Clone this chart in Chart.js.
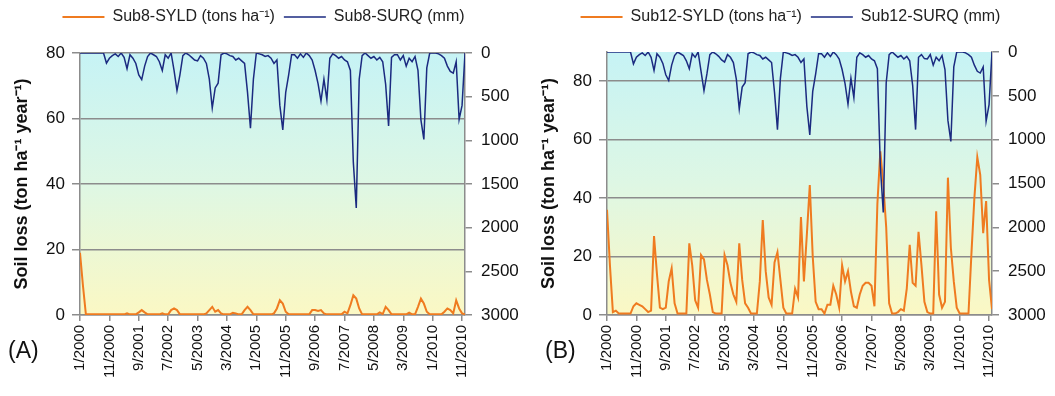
<!DOCTYPE html>
<html>
<head>
<meta charset="utf-8">
<script src="https://cdn.jsdelivr.net/npm/chart.js@4.4.1/dist/chart.umd.min.js"></script>
<style>
  body { margin: 0; background: #fff; width: 1055px; height: 396px; overflow: hidden; position: relative;
         font-family: "Liberation Sans", Arial, sans-serif; }
  .panel { position: absolute; top: 0; width: 527px; height: 396px; }
  .tag { position: absolute; top: 337px; font-size: 23px; color: #111; }
</style>
</head>
<body>
<div class="panel" style="left:0"><canvas id="chartA" width="527" height="396"></canvas></div>
<div class="panel" style="left:527px"><canvas id="chartB" width="527" height="396"></canvas></div>
<div class="tag" style="left:8px">(A)</div>
<div class="tag" style="left:545px">(B)</div>
<script>
// monthly values, Jan 2000 .. Dec 2010 (one row per year)
const sub8Syld = [
  19, 9, 0.2, 0.2, 0.2, 0.2, 0.2, 0.2, 0.2, 0.2, 0.2, 0.2,
  0.2, 0.2, 0.2, 0.2, 0.5, 0.2, 0.2, 0.2, 0.8, 1.5, 0.8, 0.2,
  0.2, 0.2, 0.2, 0.2, 0.5, 0.2, 0.2, 1.5, 2, 1.5, 0.2, 0.2,
  0.2, 0.2, 0.2, 0.2, 0.2, 0.2, 0.2, 0.5, 1.5, 2.5, 1, 1.5,
  0.5, 0.2, 0.2, 0.2, 0.7, 0.5, 0.2, 0.2, 1.5, 2.5, 1.5, 0.2,
  0.2, 0.2, 0.2, 0.2, 0.2, 0.2, 0.5, 2, 4.5, 3.5, 1, 0.2,
  0.2, 0.2, 0.2, 0.2, 0.2, 0.2, 0.2, 1.5, 1.5, 1.2, 1.5, 0.5,
  0.2, 0.2, 0.2, 0.2, 0.2, 0.2, 1, 0.5, 3, 6, 5, 2,
  0.2, 0.2, 0.2, 0.2, 0.2, 0.2, 0.8, 0.3, 2.5, 1.5, 0.2, 0.2,
  0.2, 0.2, 0.2, 0.2, 0.7, 0.2, 0.2, 2.5, 5, 3.5, 1, 0.2,
  0.2, 0.2, 0.2, 0.2, 1, 2, 1.5, 0.5, 4.5, 2, 0.5, 0.2
];
const sub8Surq = [
  0, 0, 0, 0, 0, 0, 0, 0, 0, 115, 60, 30,
  10, 40, 0, 50, 180, 20, 60, 120, 250, 305, 150, 40,
  0, 20, 40, 100, 200, 20, 60, 0, 200, 430, 250, 30,
  0, 20, 50, 80, 90, 30, 60, 120, 300, 630, 400, 345,
  20, 0, 10, 30, 40, 80, 60, 90, 120, 450, 860, 300,
  0, 10, 20, 40, 30, 60, 120, 80, 600, 880, 450, 250,
  20, 20, 60, 10, 50, 0, 30, 80, 200, 350, 550, 300,
  535, 60, 10, 30, 60, 40, 80, 100, 200, 1250, 1775, 300,
  30, 0, 30, 60, 40, 80, 50, 100, 360, 835, 50, 20,
  20, 80, 30, 150, 60, 100, 40, 200, 765, 990, 170, 0,
  0, 0, 10, 30, 60, 150, 210, 230, 100, 760, 600, 0
];
const sub12Syld = [
  36, 17, 1, 1.5, 0.5, 0.5, 0.5, 0.5, 0.5, 3, 4, 3.5,
  3, 2, 1, 1.5, 27, 14, 2.5, 2, 2.5, 11.5, 16, 4,
  0.5, 0.5, 0.5, 0.5, 24.5, 17, 5, 2.5, 20.5, 19, 12, 7,
  1, 0.5, 0.5, 0.5, 20.5, 17, 11, 7, 4.5, 24.5, 12, 4,
  2.5, 0.5, 0.5, 0.5, 11.5, 32.5, 15, 6, 3.5, 18, 21.5, 12,
  2.5, 0.5, 0.5, 0.5, 9, 6, 33.5, 11.5, 27.5, 44.5, 20, 4.5,
  2, 2, 0.5, 3.5, 3.5, 10, 7, 2.5, 17, 11.5, 15, 8,
  3, 2.5, 7, 10, 11, 11, 10, 3, 38, 56, 45, 30,
  4, 0.5, 0.5, 1, 2, 1.5, 9, 24, 11, 10, 28.5, 17,
  4.5, 1, 0.5, 0.5, 35.5, 7, 2.5, 4.5, 47, 23, 11.5, 2.5,
  0.5, 0.5, 0.5, 0.5, 21, 40, 54, 48, 28, 39, 12, 2
];
const sub12Surq = [
  0, 0, 0, 0, 0, 0, 0, 0, 0, 135, 60, 30,
  10, 40, 0, 60, 210, 20, 60, 130, 260, 325, 150, 40,
  0, 20, 40, 100, 190, 20, 60, 0, 220, 440, 250, 30,
  0, 20, 50, 90, 115, 30, 60, 120, 310, 650, 400, 350,
  20, 0, 10, 30, 40, 80, 60, 90, 120, 460, 885, 300,
  0, 10, 20, 40, 30, 60, 120, 80, 620, 945, 450, 250,
  20, 20, 60, 10, 50, 0, 30, 80, 200, 360, 595, 300,
  520, 60, 10, 30, 60, 40, 80, 100, 190, 1300, 1830, 350,
  30, 0, 30, 60, 40, 80, 50, 100, 380, 885, 60, 30,
  75, 80, 30, 150, 60, 100, 40, 200, 780, 1020, 170, 0,
  0, 0, 10, 30, 60, 150, 220, 240, 170, 790, 600, 0
];
// one label every 10 months
const xTickLabels = ['1/2000', '11/2000', '9/2001', '7/2002', '5/2003', '3/2004', '1/2005',
  '11/2005', '9/2006', '7/2007', '5/2008', '3/2009', '1/2010', '11/2010'];

const ORANGE = '#ef7b20';
const NAVY = '#1b2a80';
const AXIS_GREY = '#8c8c8c';

Chart.defaults.font.family = '"Liberation Sans", Arial, sans-serif';
Chart.defaults.color = '#111';

// cyan -> pale yellow fill behind the plot
const plotBackground = {
  id: 'plotBackground',
  beforeDraw(chart) {
    const { ctx, chartArea: a } = chart;
    const g = ctx.createLinearGradient(0, a.top, 0, a.bottom);
    g.addColorStop(0, '#c6f3f5');
    g.addColorStop(0.5, '#def7e4');
    g.addColorStop(1, '#fbf8c4');
    ctx.save();
    ctx.fillStyle = g;
    ctx.fillRect(a.left, a.top, a.width, a.height);
    ctx.restore();
  }
};

// keep the legend at the very top but reserve room down to the plot top
const legendSpace = {
  id: 'legendSpace',
  beforeLayout(chart, args, opts) {
    const legend = chart.legend;
    if (legend && !legend._spaced) {
      const fit = legend.fit.bind(legend);
      legend.fit = function () { fit(); this.height = opts.height; };
      legend._spaced = true;
    }
  }
};

function makeChart(id, syldLabel, surqLabel, syld, surq, leftMax, plotTop) {
  const months = syld.map((_, i) => i);
  return new Chart(document.getElementById(id), {
    type: 'line',
    data: {
      labels: months,
      datasets: [{
        label: syldLabel,
        data: syld,
        yAxisID: 'y',
        borderColor: ORANGE,
        backgroundColor: ORANGE,
        borderWidth: 2,
        pointRadius: 0,
        order: 1
      }, {
        label: surqLabel,
        data: surq,
        yAxisID: 'y1',
        borderColor: NAVY,
        backgroundColor: NAVY,
        borderWidth: 1.5,
        pointRadius: 0,
        order: 0
      }]
    },
    options: {
      responsive: false,
      animation: false,
      layout: { padding: 0 },
      plugins: {
        legendSpace: { height: plotTop },
        legend: {
          position: 'top',
          labels: {
            usePointStyle: true,
            pointStyle: 'line',
            pointStyleWidth: 42,
            font: { size: 16 },
            color: '#222',
            padding: 9,
            sort: (a, b) => a.datasetIndex - b.datasetIndex
          }
        },
        tooltip: { enabled: false }
      },
      scales: {
        x: {
          type: 'linear',
          min: 0,
          max: 131,
          afterFit: s => { s.height = 81; },
          ticks: {
            stepSize: 10,
            includeBounds: false,
            autoSkip: false,
            maxRotation: 90,
            minRotation: 90,
            padding: 4,
            font: { size: 15 },
            callback: v => xTickLabels[Math.round(v / 10)]
          },
          grid: { drawOnChartArea: false, tickLength: 6, color: AXIS_GREY, lineWidth: 1.5 },
          border: { color: AXIS_GREY, width: 1.5 }
        },
        y: {
          position: 'left',
          min: 0,
          max: leftMax,
          afterFit: s => { s.width = 80; },
          ticks: { stepSize: 20, includeBounds: false, padding: 7, font: { size: 17 } },
          grid: { color: AXIS_GREY, lineWidth: 1.5, tickLength: 8 },
          border: { color: AXIS_GREY, width: 1.5 },
          title: {
            display: true,
            text: 'Soil loss (ton ha⁻¹ year⁻¹)',
            font: { size: 18, weight: 'bold' },
            padding: { top: 11, bottom: 0 }
          }
        },
        y1: {
          position: 'right',
          reverse: true,
          min: 0,
          max: 3000,
          afterFit: s => { s.width = 62; },
          ticks: { stepSize: 500, padding: 9, font: { size: 17 }, callback: v => String(v) },
          grid: { drawOnChartArea: false, tickLength: 7, color: AXIS_GREY, lineWidth: 1.5 },
          border: { color: AXIS_GREY, width: 1.5 }
        }
      }
    },
    plugins: [plotBackground, legendSpace]
  });
}

makeChart('chartA', 'Sub8-SYLD (tons ha⁻¹)', 'Sub8-SURQ (mm)', sub8Syld, sub8Surq, 80, 53);
makeChart('chartB', 'Sub12-SYLD (tons ha⁻¹)', 'Sub12-SURQ (mm)', sub12Syld, sub12Surq, 90, 52);
</script>
</body>
</html>
